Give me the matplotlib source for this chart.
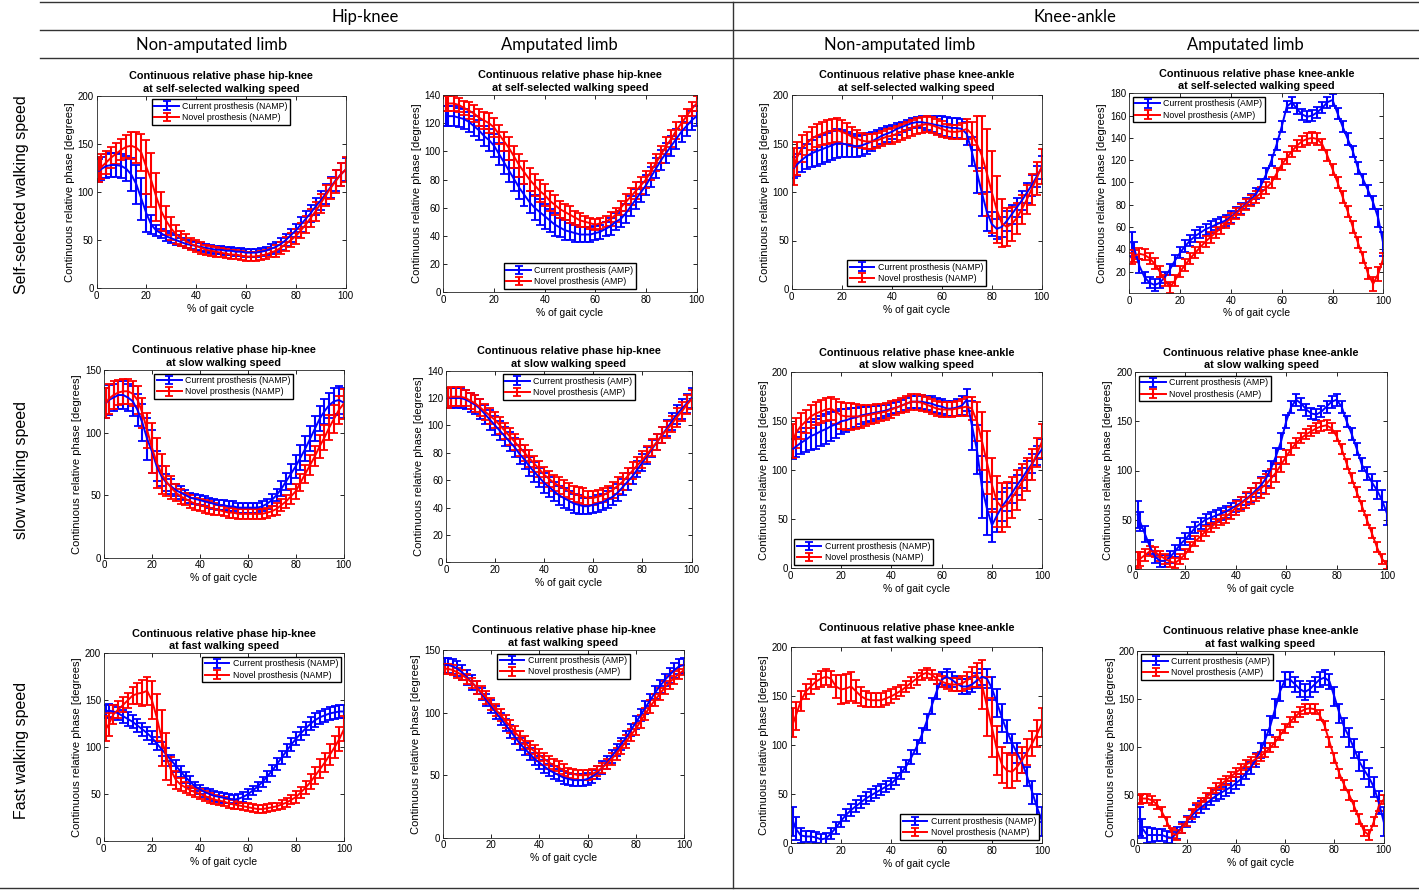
import numpy as np
import matplotlib
matplotlib.use("Agg")
import matplotlib.pyplot as plt
from matplotlib.lines import Line2D

plt.rcParams['font.family'] = ['Liberation Sans', 'DejaVu Sans']

W, H = 1419, 891

# % of gait cycle at which values were read
pct = np.r_[1, np.arange(2, 101, 2)]

# ---- hip-knee, non-amputated limb ----
hk_namp_self_cur = [122,
    124, 127, 128, 128, 127, 124, 118, 108, 93, 78,
    66, 60, 57, 54, 52, 50, 48, 46, 45, 44,
    43, 42, 41, 40, 40, 39, 39, 38, 38, 37,
    37, 37, 38, 39, 41, 43, 46, 50, 55, 60,
    66, 72, 78, 85, 91, 98, 105, 112, 118, 123]
hk_namp_self_cur_sd = [12,
    12, 12, 12, 12, 12, 13, 17, 20, 22, 20,
    10, 6, 5, 5, 5, 5, 4, 4, 4, 4,
    4, 4, 4, 4, 4, 4, 4, 4, 4, 4,
    4, 4, 4, 4, 5, 5, 6, 6, 7, 7,
    8, 8, 9, 9, 10, 10, 11, 11, 12, 12]
hk_namp_self_nov = [123,
    126, 131, 136, 140, 144, 147, 148, 146, 141, 126,
    112, 95, 80, 70, 62, 56, 52, 49, 46, 44,
    42, 40, 39, 38, 37, 36, 35, 35, 34, 33,
    33, 33, 34, 35, 37, 39, 42, 46, 50, 54,
    60, 66, 73, 80, 88, 96, 104, 111, 118, 123]
hk_namp_self_nov_sd = [13,
    13, 12, 11, 11, 11, 12, 14, 16, 19, 28,
    28, 25, 20, 15, 12, 10, 8, 7, 6, 6,
    6, 5, 5, 5, 5, 5, 5, 5, 5, 5,
    5, 5, 5, 5, 5, 6, 6, 7, 7, 8,
    8, 9, 9, 10, 10, 11, 11, 12, 12, 13]

hk_namp_slow_cur = [124,
    126, 128, 130, 130, 128, 125, 118, 108, 95, 85,
    73, 65, 60, 57, 54, 52, 50, 48, 47, 46,
    45, 44, 43, 42, 42, 41, 41, 40, 40, 40,
    40, 40, 41, 43, 46, 50, 55, 61, 67, 73,
    80, 87, 95, 103, 111, 117, 122, 125, 126, 124]
hk_namp_slow_cur_sd = [12,
    12, 11, 11, 11, 11, 12, 13, 15, 17, 17,
    12, 8, 7, 6, 5, 5, 4, 4, 4, 4,
    4, 4, 4, 4, 4, 4, 4, 4, 4, 4,
    4, 4, 4, 4, 5, 5, 6, 7, 8, 9,
    10, 10, 10, 10, 10, 10, 10, 11, 11, 12]
hk_namp_slow_nov = [124,
    127, 130, 132, 133, 133, 131, 126, 116, 102, 88,
    76, 67, 61, 56, 52, 49, 47, 45, 43, 42,
    41, 40, 39, 38, 37, 36, 36, 35, 35, 35,
    35, 35, 35, 36, 37, 39, 42, 45, 49, 53,
    60, 67, 74, 81, 89, 96, 104, 111, 118, 123]
hk_namp_slow_nov_sd = [12,
    12, 11, 10, 10, 10, 10, 11, 12, 14, 20,
    20, 16, 12, 9, 7, 6, 5, 5, 5, 5,
    5, 5, 5, 4, 4, 4, 4, 4, 4, 4,
    4, 4, 4, 4, 4, 5, 5, 5, 6, 6,
    7, 7, 8, 8, 9, 10, 10, 11, 11, 12]

hk_namp_fast_cur = [138,
    139, 138, 136, 133, 130, 127, 123, 119, 115, 110,
    104, 98, 92, 86, 80, 74, 68, 63, 58, 55,
    52, 50, 48, 47, 46, 45, 44, 45, 47, 50,
    54, 58, 63, 69, 75, 82, 89, 96, 103, 109,
    115, 120, 125, 129, 132, 134, 136, 137, 138, 138]
hk_namp_fast_cur_sd = [7,
    7, 7, 7, 7, 7, 7, 7, 7, 7, 7,
    7, 7, 7, 6, 6, 6, 6, 6, 5, 5,
    5, 5, 5, 5, 5, 5, 5, 5, 5, 5,
    5, 5, 5, 6, 6, 6, 7, 7, 7, 7,
    7, 7, 7, 7, 7, 7, 7, 7, 7, 7]
hk_namp_fast_nov = [120,
    124, 135, 140, 145, 150, 155, 157, 158, 160, 150,
    132, 110, 90, 75, 65, 60, 57, 54, 52, 50,
    48, 46, 44, 43, 42, 40, 39, 38, 37, 36,
    35, 34, 34, 35, 36, 37, 39, 41, 44, 47,
    52, 57, 63, 70, 77, 84, 92, 100, 109, 120]
hk_namp_fast_nov_sd = [13,
    12, 10, 9, 8, 8, 9, 11, 14, 15, 20,
    25, 30, 25, 15, 10, 7, 6, 5, 5, 5,
    5, 5, 5, 5, 5, 5, 5, 4, 4, 4,
    4, 4, 4, 4, 4, 4, 5, 5, 5, 6,
    6, 7, 8, 9, 10, 10, 11, 12, 13, 13]

# ---- hip-knee, amputated limb ----
hk_amp_self_cur = [125,
    125, 125, 124, 123, 121, 118, 115, 111, 108, 104,
    98, 92, 86, 80, 74, 69, 64, 60, 57, 54,
    51, 48, 46, 44, 43, 42, 41, 41, 41, 42,
    43, 45, 47, 50, 52, 56, 61, 66, 71, 76,
    82, 88, 94, 99, 104, 109, 114, 118, 122, 125]
hk_amp_self_cur_sd = [7,
    7, 7, 7, 7, 7, 7, 7, 7, 8, 8,
    8, 8, 8, 8, 8, 8, 8, 9, 9, 9,
    8, 8, 7, 7, 6, 6, 5, 5, 5, 5,
    5, 5, 6, 6, 6, 7, 7, 7, 7, 7,
    7, 7, 7, 7, 7, 7, 7, 7, 7, 7]
hk_amp_self_nov = [134,
    134, 134, 133, 131, 129, 127, 124, 122, 120, 117,
    112, 107, 102, 96, 90, 85, 80, 76, 72, 69,
    65, 62, 59, 57, 55, 53, 51, 50, 49, 48,
    49, 50, 52, 55, 60, 64, 68, 72, 76, 80,
    86, 92, 98, 104, 109, 115, 120, 125, 130, 134]
hk_amp_self_nov_sd = [5,
    5, 5, 5, 5, 6, 6, 6, 6, 7, 7,
    7, 7, 8, 8, 8, 8, 8, 8, 8, 8,
    7, 7, 6, 6, 6, 5, 5, 4, 4, 4,
    4, 4, 5, 5, 5, 6, 6, 6, 6, 6,
    6, 6, 6, 6, 6, 6, 5, 5, 5, 5]

hk_amp_slow_cur = [120,
    120, 120, 120, 119, 117, 115, 112, 108, 104, 100,
    96, 92, 88, 84, 79, 75, 70, 66, 62, 58,
    55, 52, 49, 47, 45, 43, 42, 41, 41, 42,
    43, 44, 46, 48, 51, 55, 59, 63, 68, 73,
    78, 83, 88, 93, 98, 103, 108, 112, 116, 120]
hk_amp_slow_cur_sd = [7,
    7, 7, 7, 7, 7, 7, 7, 7, 7, 7,
    7, 7, 7, 7, 7, 7, 7, 7, 7, 7,
    7, 7, 7, 7, 7, 7, 7, 6, 6, 6,
    6, 6, 6, 6, 6, 6, 6, 6, 6, 6,
    6, 6, 6, 6, 6, 6, 7, 7, 7, 7]
hk_amp_slow_nov = [120,
    121, 121, 121, 120, 118, 116, 113, 110, 107, 104,
    100, 96, 92, 88, 84, 80, 76, 72, 68, 64,
    61, 58, 56, 54, 52, 50, 49, 48, 47, 47,
    48, 49, 51, 53, 56, 59, 63, 67, 71, 75,
    79, 84, 88, 93, 97, 101, 106, 110, 115, 119]
hk_amp_slow_nov_sd = [7,
    7, 7, 7, 6, 6, 6, 6, 6, 6, 6,
    6, 6, 6, 6, 6, 6, 6, 6, 6, 6,
    6, 6, 6, 6, 6, 6, 6, 6, 5, 5,
    5, 5, 5, 6, 6, 6, 6, 6, 6, 6,
    6, 6, 6, 6, 6, 6, 7, 7, 7, 7]

hk_amp_fast_cur = [138,
    138, 137, 135, 132, 128, 124, 120, 115, 110, 105,
    100, 95, 90, 85, 80, 75, 71, 67, 63, 60,
    57, 54, 52, 50, 48, 47, 46, 46, 46, 47,
    49, 52, 56, 60, 65, 70, 75, 80, 86, 92,
    98, 104, 110, 116, 121, 126, 130, 134, 137, 138]
hk_amp_fast_cur_sd = [6,
    6, 6, 6, 6, 6, 6, 5, 5, 5, 5,
    5, 5, 5, 5, 5, 5, 5, 5, 5, 5,
    5, 5, 5, 5, 5, 5, 5, 5, 5, 5,
    5, 5, 5, 5, 5, 5, 5, 5, 5, 5,
    5, 5, 5, 5, 5, 5, 6, 6, 6, 6]
hk_amp_fast_nov = [135,
    135, 134, 132, 130, 127, 124, 120, 116, 112, 107,
    102, 98, 93, 89, 84, 80, 76, 72, 69, 66,
    63, 60, 58, 56, 54, 52, 51, 50, 50, 50,
    51, 53, 56, 59, 63, 67, 72, 77, 82, 87,
    93, 99, 105, 110, 115, 120, 124, 128, 131, 134]
hk_amp_fast_nov_sd = [4,
    4, 4, 4, 4, 4, 4, 5, 5, 5, 5,
    5, 5, 5, 5, 5, 5, 5, 5, 5, 5,
    5, 5, 5, 5, 5, 4, 4, 4, 4, 4,
    4, 4, 4, 4, 5, 5, 5, 5, 5, 5,
    5, 5, 5, 5, 5, 5, 5, 5, 4, 4]

# ---- knee-ankle, non-amputated limb ----
ka_namp_self_cur = [125,
    128, 133, 137, 140, 142, 144, 146, 148, 150, 150,
    149, 148, 147, 148, 150, 152, 155, 158, 160, 162,
    165, 167, 169, 171, 172, 172, 171, 170, 169, 168,
    167, 166, 166, 165, 160, 142, 121, 100, 80, 67,
    62, 64, 70, 77, 84, 91, 99, 107, 116, 125]
ka_namp_self_cur_sd = [11,
    11, 12, 13, 14, 15, 15, 15, 15, 15, 14,
    13, 12, 11, 11, 11, 10, 9, 8, 8, 7,
    6, 5, 5, 5, 5, 6, 7, 8, 9, 10,
    10, 10, 10, 10, 12, 15, 22, 25, 20, 12,
    10, 10, 10, 10, 10, 10, 10, 11, 11, 12]
ka_namp_self_nov = [126,
    135, 145, 150, 155, 158, 160, 162, 163, 164, 162,
    160, 157, 155, 153, 152, 152, 153, 155, 157, 158,
    160, 162, 164, 166, 168, 169, 170, 169, 167, 165,
    163, 162, 162, 163, 165, 160, 150, 138, 120, 100,
    82, 68, 64, 67, 73, 82, 92, 103, 114, 126]
ka_namp_self_nov_sd = [19,
    17, 14, 12, 12, 12, 12, 12, 12, 12, 12,
    11, 10, 9, 8, 8, 8, 8, 8, 8, 8,
    8, 8, 8, 8, 8, 8, 8, 8, 8, 8,
    7, 7, 7, 8, 10, 12, 28, 40, 45, 42,
    35, 25, 20, 18, 16, 15, 15, 16, 17, 18]

ka_namp_slow_cur = [122,
    124, 128, 131, 135, 137, 140, 142, 145, 147, 150,
    151, 153, 154, 156, 157, 158, 159, 160, 161, 163,
    164, 166, 168, 170, 170, 170, 169, 168, 166, 165,
    163, 163, 164, 166, 172, 146, 121, 83, 61, 44,
    54, 63, 70, 77, 85, 92, 100, 107, 115, 122]
ka_namp_slow_cur_sd = [10,
    10, 11, 12, 14, 15, 15, 15, 15, 14, 13,
    12, 11, 10, 9, 8, 8, 7, 7, 6, 6,
    6, 6, 6, 6, 6, 7, 7, 8, 8, 8,
    8, 8, 9, 10, 11, 25, 25, 32, 27, 17,
    17, 15, 12, 10, 10, 10, 10, 10, 10, 10]
ka_namp_slow_nov = [130,
    138, 145, 150, 155, 158, 160, 162, 163, 160, 156,
    155, 155, 155, 155, 156, 157, 158, 159, 160, 162,
    164, 166, 168, 170, 170, 169, 167, 165, 163, 162,
    162, 162, 163, 164, 165, 163, 150, 130, 108, 85,
    68, 62, 65, 72, 80, 88, 96, 106, 118, 130]
ka_namp_slow_nov_sd = [17,
    15, 13, 12, 12, 12, 12, 12, 12, 13, 14,
    14, 14, 13, 12, 11, 10, 10, 9, 9, 9,
    8, 8, 8, 8, 8, 8, 8, 8, 8, 8,
    8, 8, 8, 9, 10, 12, 20, 30, 32, 28,
    26, 25, 23, 21, 20, 18, 17, 16, 15, 17]

ka_namp_fast_cur = [22,
    15, 8, 7, 7, 6, 4, 5, 10, 16, 23,
    29, 34, 38, 42, 46, 49, 52, 55, 58, 61,
    66, 72, 79, 88, 98, 110, 124, 140, 155, 167,
    170, 167, 163, 160, 160, 162, 166, 170, 168, 158,
    143, 128, 114, 102, 92, 82, 68, 52, 36, 22]
ka_namp_fast_cur_sd = [15,
    12, 8, 6, 6, 6, 6, 6, 6, 6, 6,
    6, 6, 6, 6, 6, 6, 6, 6, 6, 6,
    6, 6, 6, 7, 7, 8, 8, 8, 8, 8,
    8, 8, 8, 8, 8, 8, 8, 8, 10, 12,
    14, 14, 12, 10, 10, 10, 10, 12, 14, 15]
ka_namp_fast_nov = [123,
    130, 145, 155, 160, 165, 168, 170, 168, 160, 157,
    158, 160, 155, 150, 147, 146, 146, 146, 148, 150,
    153, 156, 160, 164, 168, 172, 174, 172, 168, 165,
    163, 162, 162, 163, 166, 170, 172, 162, 140, 118,
    95, 80, 74, 73, 78, 85, 93, 102, 112, 123]
ka_namp_fast_nov_sd = [15,
    14, 10, 8, 8, 8, 8, 8, 8, 12, 15,
    15, 15, 12, 10, 8, 7, 7, 7, 7, 7,
    6, 6, 6, 6, 6, 5, 5, 5, 5, 6,
    6, 7, 7, 8, 9, 10, 12, 25, 30, 30,
    25, 18, 18, 17, 14, 13, 13, 13, 14, 15]

# ---- knee-ankle, amputated limb ----
ka_amp_self_cur = [45,
    40, 25, 15, 10, 8, 10, 15, 22, 30, 37,
    43, 48, 52, 55, 58, 60, 62, 64, 66, 69,
    73, 77, 81, 85, 90, 98, 108, 120, 134, 150,
    168, 172, 166, 161, 159, 160, 163, 167, 172, 174,
    162, 150, 139, 128, 113, 103, 93, 82, 68, 45]
ka_amp_self_cur_sd = [11,
    7, 6, 5, 5, 5, 5, 5, 5, 5, 5,
    5, 5, 5, 5, 5, 5, 5, 5, 5, 5,
    5, 5, 5, 5, 5, 5, 5, 5, 5, 5,
    5, 5, 5, 5, 5, 5, 5, 5, 5, 5,
    5, 5, 5, 5, 5, 5, 5, 6, 8, 11]
ka_amp_self_nov = [32,
    34, 36, 35, 32, 27, 20, 12, 6, 12, 20,
    26, 32, 37, 42, 47, 51, 55, 59, 64, 68,
    72, 76, 80, 84, 87, 91, 95, 100, 108, 116,
    122, 128, 133, 137, 139, 140, 139, 134, 124, 112,
    100, 87, 74, 60, 46, 33, 18, 9, 18, 32]
ka_amp_self_nov_sd = [5,
    5, 5, 5, 5, 5, 5, 5, 5, 5, 5,
    5, 5, 5, 5, 5, 5, 5, 5, 5, 5,
    5, 5, 5, 5, 5, 5, 5, 5, 5, 5,
    5, 5, 5, 5, 5, 5, 5, 5, 5, 5,
    5, 5, 5, 5, 5, 5, 5, 6, 6, 5]

ka_amp_slow_cur = [55,
    48, 35, 22, 12, 8, 8, 12, 18, 25, 30,
    36, 42, 46, 50, 52, 54, 56, 58, 61, 64,
    67, 71, 75, 80, 85, 92, 102, 115, 130, 150,
    165, 172, 168, 162, 158, 157, 160, 165, 170, 172,
    165, 150, 137, 122, 106, 97, 88, 80, 70, 56]
ka_amp_slow_cur_sd = [14,
    10, 8, 7, 6, 6, 6, 6, 6, 6, 6,
    6, 6, 6, 6, 6, 6, 6, 6, 6, 6,
    6, 6, 7, 7, 8, 8, 8, 8, 8, 7,
    6, 6, 6, 6, 6, 6, 6, 6, 6, 6,
    6, 6, 6, 6, 7, 7, 8, 9, 10, 12]
ka_amp_slow_nov = [9,
    10, 14, 18, 17, 13, 10, 7, 6, 10, 15,
    22, 28, 33, 38, 42, 46, 50, 53, 57, 62,
    66, 70, 74, 78, 82, 86, 92, 98, 106, 114,
    122, 128, 133, 137, 140, 143, 145, 146, 143, 135,
    122, 107, 92, 78, 64, 50, 36, 22, 10, 4]
ka_amp_slow_nov_sd = [8,
    7, 6, 5, 5, 5, 5, 5, 5, 5, 5,
    5, 5, 5, 5, 5, 5, 5, 6, 6, 7,
    7, 8, 8, 9, 10, 10, 10, 10, 8, 7,
    6, 5, 5, 5, 5, 5, 5, 5, 5, 5,
    5, 5, 5, 5, 5, 5, 5, 5, 5, 4]

ka_amp_fast_cur = [22,
    15, 8, 8, 8, 8, 6, 5, 10, 16, 22,
    28, 33, 37, 41, 45, 49, 52, 55, 58, 62,
    66, 72, 78, 86, 96, 108, 122, 140, 158, 170,
    170, 165, 160, 157, 160, 165, 170, 172, 168, 152,
    135, 120, 110, 98, 85, 76, 68, 58, 42, 22]
ka_amp_fast_cur_sd = [15,
    10, 8, 7, 6, 6, 6, 6, 6, 6, 6,
    6, 6, 6, 6, 6, 6, 6, 6, 6, 6,
    6, 6, 6, 7, 8, 9, 10, 10, 10, 8,
    8, 8, 8, 8, 8, 8, 8, 8, 8, 10,
    10, 10, 10, 10, 10, 10, 10, 10, 12, 15]
ka_amp_fast_nov = [45,
    46, 46, 44, 40, 32, 22, 10, 8, 15, 22,
    30, 36, 42, 47, 52, 57, 61, 65, 69, 73,
    77, 81, 84, 87, 90, 94, 99, 105, 112, 119,
    126, 131, 136, 139, 140, 139, 133, 122, 105, 88,
    72, 60, 50, 38, 25, 12, 8, 22, 38, 45]
ka_amp_fast_nov_sd = [5,
    5, 5, 5, 5, 5, 5, 5, 5, 5, 5,
    5, 5, 5, 5, 5, 5, 5, 5, 5, 5,
    5, 5, 5, 5, 5, 5, 5, 5, 5, 5,
    5, 5, 5, 5, 5, 5, 5, 5, 5, 5,
    5, 5, 5, 5, 5, 5, 5, 5, 5, 5]

speed_text = {'self': 'self-selected', 'slow': 'slow', 'fast': 'fast'}

# panel: (joint, limb, speed, tag, pixel box l,t,r,b, ylim, yticks, legend loc)
panels = [
    ('hk', 'namp', 'self', 'NAMP', (96.5, 95.7, 345.5, 288.3), (0, 200), range(0, 201, 50), 'upper center'),
    ('hk', 'amp', 'self', 'AMP', (443.4, 95.0, 696.7, 292.3), (0, 140), range(0, 141, 20), 'lower center'),
    ('ka', 'namp', 'self', 'NAMP', (791.7, 95.0, 1041.7, 289.0), (0, 200), range(0, 201, 50), 'lower center'),
    ('ka', 'amp', 'self', 'AMP', (1129.3, 93.3, 1383.3, 292.8), (1, 180), range(20, 181, 20), 'upper left'),
    ('hk', 'namp', 'slow', 'NAMP', (104.0, 370.0, 343.6, 557.7), (0, 150), range(0, 151, 50), 'upper center'),
    ('hk', 'amp', 'slow', 'AMP', (446.0, 370.7, 691.5, 562.3), (0, 140), range(0, 141, 20), 'upper center'),
    ('ka', 'namp', 'slow', 'NAMP', (790.7, 372.3, 1042.3, 568.3), (0, 200), range(0, 201, 50), 'lower left'),
    ('ka', 'amp', 'slow', 'AMP', (1135.0, 372.3, 1387.0, 568.7), (0, 200), range(0, 201, 50), 'upper left'),
    ('hk', 'namp', 'fast', 'NAMP', (103.8, 653.3, 344.3, 841.0), (0, 200), range(0, 201, 50), 'upper right'),
    ('hk', 'amp', 'fast', 'AMP', (443.0, 650.0, 684.0, 837.7), (0, 150), range(0, 151, 50), 'upper center'),
    ('ka', 'namp', 'fast', 'NAMP', (790.7, 647.3, 1042.3, 843.3), (0, 200), range(0, 201, 50), 'lower right'),
    ('ka', 'amp', 'fast', 'AMP', (1137.3, 650.7, 1383.7, 842.7), (0, 200), range(0, 201, 50), 'upper left'),
]

fig = plt.figure(figsize=(W / 100, H / 100), dpi=100)

for joint, limb, speed, tag, box, ylim, yticks, loc in panels:
    l, t, r, b = box
    ax = fig.add_axes([l / W, 1 - b / H, (r - l) / W, (b - t) / H])
    base = f'{joint}_{limb}_{speed}'
    for key, col, name in (('cur', 'blue', 'Current'), ('nov', 'red', 'Novel')):
        m = np.array(globals()[f'{base}_{key}'], dtype=float)
        sd = np.array(globals()[f'{base}_{key}_sd'], dtype=float)
        assert len(m) == len(pct) and len(sd) == len(pct), base + key
        ax.errorbar(pct, m, yerr=sd, color=col, lw=1.4, elinewidth=1.5,
                    capsize=2.8, capthick=1.3,
                    label=f'{name} prosthesis ({tag})')
    jname = 'hip-knee' if joint == 'hk' else 'knee-ankle'
    ax.set_title(f'Continuous relative phase {jname}\nat {speed_text[speed]} walking speed',
                 fontsize=7.8, fontweight='bold', pad=3, linespacing=1.3)
    ax.set_xlim(0, 100)
    ax.set_ylim(*ylim)
    ax.set_xticks(range(0, 101, 20))
    ax.set_yticks(list(yticks))
    ax.set_xlabel('% of gait cycle', fontsize=7.5, labelpad=2)
    ax.set_ylabel('Continuous relative phase [degrees]', fontsize=8, labelpad=2)
    ax.tick_params(direction='in', length=3, width=0.6, labelsize=7,
                   top=True, right=True, pad=2)
    for sp in ax.spines.values():
        sp.set_linewidth(0.6)
        sp.set_color('#262626')
    leg = ax.legend(loc=loc, fontsize=6.3, fancybox=False, edgecolor='black',
                    framealpha=1, borderpad=0.3, labelspacing=0.25,
                    handlelength=2.8, handletextpad=0.4, borderaxespad=0.4)
    leg.get_frame().set_linewidth(1.0)

# table-like header and separators
def hline(y, x0, x1):
    fig.add_artist(Line2D([x0 / W, x1 / W], [1 - y / H] * 2, color='#333333', lw=1.0))

def vline(x, y0, y1):
    fig.add_artist(Line2D([x / W] * 2, [1 - y0 / H, 1 - y1 / H], color='#333333', lw=1.0))

hline(2, 40, W)
hline(30, 40, W)
hline(58, 40, W)
hline(888, 0, W)
vline(733, 2, 888)

head = dict(ha='center', va='center', fontsize=12, family=['Lato', 'DejaVu Sans'])
fig.text(365 / W, 1 - 17 / H, 'Hip-knee', **head)
fig.text(1075 / W, 1 - 17 / H, 'Knee-ankle', **head)
fig.text(212 / W, 1 - 45 / H, 'Non-amputated limb', **head)
fig.text(559 / W, 1 - 45 / H, 'Amputated limb', **head)
fig.text(900 / W, 1 - 45 / H, 'Non-amputated limb', **head)
fig.text(1245 / W, 1 - 45 / H, 'Amputated limb', **head)

rowtxt = dict(ha='center', va='center', rotation=90, fontsize=11.5)
fig.text(22 / W, 1 - 195 / H, 'Self-selected walking speed', **rowtxt)
fig.text(22 / W, 1 - 470 / H, 'slow walking speed', **rowtxt)
fig.text(22 / W, 1 - 750 / H, 'Fast walking speed', **rowtxt)

fig.savefig('out.png', dpi=100)
